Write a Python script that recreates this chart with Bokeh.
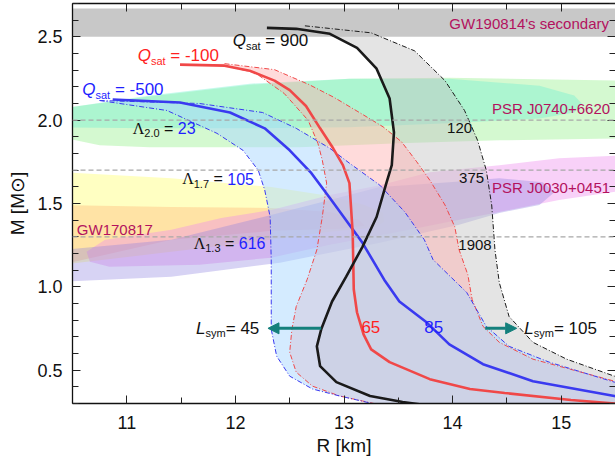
import math
from bokeh.plotting import figure
from bokeh.models import (Range1d, LinearAxis, FixedTicker, Label, Span,
                          BoxAnnotation, Arrow, NormalHead,
                          PrintfTickFormatter, CustomJSTickFormatter)
from bokeh.embed import file_html
from bokeh.resources import INLINE

# ---------------------------------------------------------------- axes
R_RANGE = (10.5, 15.5)
M_RANGE = (0.3, 2.7)
r_major = [11, 12, 13, 14, 15]
r_minor = [10.5, 11.5, 12.5, 13.5, 14.5, 15.5]
m_major = [0.5, 1.0, 1.5, 2.0, 2.5]
m_minor = [0.3, 0.4, 0.6, 0.7, 0.8, 0.9, 1.1, 1.2, 1.3, 1.4, 1.6, 1.7, 1.8,
           1.9, 2.1, 2.2, 2.3, 2.4, 2.6, 2.7]

# ------------------------------------------------- mass-radius relations
# Q_sat = 900
black_solid_R = [12.29, 12.56, 12.87, 13.12, 13.30, 13.42, 13.46, 13.44, 13.39,
                 13.30, 13.17, 13.02, 12.89, 12.79, 12.75, 12.78, 12.93, 13.24,
                 13.54, 13.88]
black_solid_M = [2.554, 2.548, 2.518, 2.434, 2.309, 2.130, 1.927, 1.730, 1.622,
                 1.419, 1.240, 1.061, 0.912, 0.745, 0.643, 0.524, 0.428, 0.345,
                 0.309, 0.279]
black_hi_R = [12.64, 13.25, 13.65, 13.93, 14.11, 14.23, 14.31, 14.36, 14.39,
              14.43, 14.52, 14.74, 15.05, 15.49, 15.81]
black_hi_M = [2.566, 2.524, 2.416, 2.237, 2.058, 1.879, 1.700, 1.491, 1.222,
              1.025, 0.822, 0.667, 0.566, 0.464, 0.428]

# Q_sat = -100
red_solid_R = [11.49, 11.90, 12.13, 12.36, 12.50, 12.65, 12.78, 12.90, 12.99,
               13.05, 13.08, 13.09, 13.12, 13.18, 13.25, 13.42, 13.79, 14.16,
               14.48, 15.09, 15.54]
red_solid_M = [2.333, 2.327, 2.297, 2.237, 2.180, 2.085, 1.951, 1.831, 1.730,
               1.622, 1.324, 0.984, 0.846, 0.715, 0.625, 0.548, 0.446, 0.387,
               0.363, 0.321, 0.297]
red_lo_R = [11.49, 11.90, 12.18, 12.45, 12.67, 12.76, 12.80, 12.84, 12.80,
            12.75, 12.66, 12.56, 12.52, 12.50, 12.56, 12.71, 12.96, 13.17, 13.51]
red_lo_M = [2.333, 2.327, 2.285, 2.160, 1.999, 1.861, 1.760, 1.622, 1.419,
            1.222, 1.043, 0.882, 0.745, 0.607, 0.488, 0.404, 0.345, 0.315, 0.267]
red_hi_R = [11.90, 12.36, 12.68, 12.91, 13.17, 13.36, 13.53, 13.67, 13.79,
            13.93, 14.02, 14.06, 14.14, 14.18, 14.28, 14.43, 14.74, 15.49, 15.81]
red_hi_M = [2.339, 2.303, 2.213, 2.136, 2.035, 1.960, 1.870, 1.750, 1.640,
            1.491, 1.360, 1.222, 1.073, 0.924, 0.763, 0.667, 0.566, 0.434, 0.399]

# Q_sat = -500
blue_solid_R = [10.87, 11.49, 11.95, 12.27, 12.50, 12.70, 12.87, 13.17, 13.37,
                13.51, 13.76, 13.97, 14.28, 14.74, 15.49, 15.80]
blue_solid_M = [2.124, 2.106, 2.046, 1.951, 1.819, 1.682, 1.533, 1.264, 1.043,
                0.912, 0.787, 0.655, 0.536, 0.434, 0.345, 0.320]
blue_lo_R = [10.75, 11.37, 11.83, 12.07, 12.21, 12.27, 12.32, 12.33, 12.33,
             12.38, 12.50, 12.71, 12.96, 13.24, 13.51]
blue_lo_M = [2.118, 2.058, 1.921, 1.819, 1.700, 1.581, 1.419, 1.163, 0.745,
             0.584, 0.464, 0.387, 0.345, 0.303, 0.267]
blue_hi_R = [10.75, 11.67, 12.25, 12.56, 12.87, 13.05, 13.33, 13.56, 13.74,
             13.82, 14.13, 14.31, 14.52, 14.89, 15.49, 15.81]
blue_hi_M = [2.118, 2.100, 2.046, 1.951, 1.831, 1.742, 1.610, 1.449, 1.282,
             1.163, 0.966, 0.763, 0.643, 0.548, 0.428, 0.387]

# ------------------------------------------------- observational regions
gw190814_band = [2.50, 2.67]
lambda_masses = [2.0, 1.7, 1.3]

j0740_outer_R = [10.40, 11.21, 12.13, 13.05, 13.97, 15.60, 15.60, 14.43, 13.51,
                 12.59, 11.21, 10.75, 10.40]
j0740_outer_M = [2.070, 2.142, 2.213, 2.249, 2.255, 2.237, 1.891, 1.879, 1.861,
                 1.837, 1.837, 1.849, 1.897]
j0740_inner_R = [10.40, 11.21, 12.13, 13.05, 13.97, 14.80, 15.12, 15.19, 15.12,
                 14.80, 13.97, 13.05, 12.13, 11.21, 10.40]
j0740_inner_M = [2.070, 2.148, 2.219, 2.249, 2.249, 2.207, 2.148, 2.100, 2.046,
                 2.010, 1.981, 1.957, 1.951, 1.951, 1.957]

j0030_outer_R = [10.63, 10.80, 11.41, 11.87, 12.33, 12.87, 13.33, 13.79, 14.43,
                 14.98, 15.60, 15.60, 14.98, 14.43, 13.97, 13.51, 12.87, 12.33,
                 11.67, 10.84, 10.66]
j0030_outer_M = [1.210, 1.282, 1.342, 1.413, 1.461, 1.551, 1.610, 1.688, 1.730,
                 1.772, 1.790, 1.581, 1.521, 1.449, 1.390, 1.330, 1.252, 1.175,
                 1.133, 1.121, 1.151]
j0030_inner_R = [10.40, 11.41, 12.33, 12.87, 13.33, 13.97, 14.43, 14.83, 14.94,
                 14.80, 14.43, 14.06, 13.33, 12.41, 11.41, 10.40]
j0030_inner_M = [1.222, 1.282, 1.431, 1.521, 1.599, 1.628, 1.652, 1.628, 1.569,
                 1.491, 1.443, 1.372, 1.264, 1.145, 1.061, 1.031]

gw170817_outer_R = [10.40, 11.41, 12.33, 12.87, 13.19, 13.36, 13.37, 13.28,
                    12.87, 12.33, 11.41, 10.40]
gw170817_outer_M = [1.688, 1.652, 1.599, 1.545, 1.491, 1.443, 1.390, 1.354,
                    1.330, 1.282, 1.210, 1.133]
gw170817_inner_R = [10.40, 11.41, 12.33, 12.87, 13.14, 13.19, 12.96, 12.33,
                    11.41, 10.40]
gw170817_inner_M = [1.491, 1.479, 1.473, 1.449, 1.401, 1.366, 1.348, 1.336,
                    1.282, 1.133]

# L_sym arrows: (R tail, R head, M)
lsym_left_arrow = [12.79, 12.30, 0.751]
lsym_right_arrow = [14.30, 14.59, 0.751]

# ---------------------------------------------------------------- styles
SANS = "Liberation Sans"
SERIF = "Liberation Serif"
BLUE, RED, BLACK = "#3a3af0", "#f04848", "#1a1a1a"
BLUE_T, RED_T = "#1f1fff", "#ff1f1f"
CRIMSON = "#b3125e"
TEAL = "#14807c"
NB = "\u00a0"

p = figure(width=615, height=461, x_range=Range1d(*R_RANGE),
           y_range=Range1d(*M_RANGE), output_backend="svg",
           toolbar_location=None, min_border_left=72, min_border_right=0,
           min_border_top=3, min_border_bottom=58)
p.grid.visible = False
p.outline_line_color = None
p.background_fill_color = "white"
p.border_fill_color = "white"

blank = CustomJSTickFormatter(code="return ''")


def style_axis(ax, labels=True):
    ax.major_tick_in = 8
    ax.major_tick_out = 0
    ax.minor_tick_in = 6
    ax.minor_tick_out = 0
    ax.major_tick_line_color = "#222"
    ax.minor_tick_line_color = "#222"
    ax.axis_line_color = "#111"
    ax.axis_line_width = 1.3
    if labels:
        ax.major_label_text_font = SANS
        ax.major_label_text_font_size = "18px"
        ax.major_label_text_color = "#111"
        ax.axis_label_text_font = SANS
        ax.axis_label_text_font_size = "19px"
        ax.axis_label_text_font_style = "normal"
        ax.axis_label_text_color = "#111"
    else:
        ax.formatter = blank
        ax.major_label_standoff = 0


xa = p.xaxis[0]
xa.ticker = FixedTicker(ticks=r_major, minor_ticks=r_minor)
style_axis(xa)
xa.major_label_standoff = 12
xa.axis_label = "R [km]"
xa.axis_label_standoff = 3
ya = p.yaxis[0]
ya.ticker = FixedTicker(ticks=m_major, minor_ticks=m_minor)
ya.formatter = PrintfTickFormatter(format="%.1f")
style_axis(ya)
ya.major_label_standoff = 10
ya.axis_label = "M [M⊙]"
ya.axis_label_standoff = 6

top = LinearAxis(ticker=FixedTicker(ticks=r_major, minor_ticks=r_minor))
style_axis(top, labels=False)
p.add_layout(top, "above")
right = LinearAxis(ticker=FixedTicker(ticks=m_major, minor_ticks=m_minor))
style_axis(right, labels=False)
right.axis_line_color = None
p.add_layout(right, "right")

# ----------------------------------------------- observational constraints
p.add_layout(BoxAnnotation(bottom=gw190814_band[0], top=gw190814_band[1],
                           fill_color="#c8c8c8", fill_alpha=1.0,
                           line_color=None, level="underlay"))

p.patch(j0740_outer_R, j0740_outer_M, fill_color="#b8f5b0", fill_alpha=0.6,
        line_color=None)
p.patch(j0740_inner_R, j0740_inner_M, fill_color="#70f0d0", fill_alpha=0.4,
        line_color=None)
p.patch(gw170817_outer_R, gw170817_outer_M, fill_color="#ffff90",
        fill_alpha=0.55, line_color=None)
p.patch(gw170817_inner_R, gw170817_inner_M, fill_color="#ffb070",
        fill_alpha=0.35, line_color=None)
p.patch(j0030_outer_R, j0030_outer_M, fill_color="#ee8cee", fill_alpha=0.4,
        line_color=None)
p.patch(j0030_inner_R, j0030_inner_M, fill_color="#8c80e0", fill_alpha=0.35,
        line_color=None)

for m in lambda_masses:
    p.add_layout(Span(location=m, dimension="width", line_color="#a8a8a8",
                      line_dash="5 3", line_width=1.2))

# ------------------------------------------------ bands between relations
floor = M_RANGE[0] - 0.2


def band(lo_R, lo_M, hi_R, hi_M, color, alpha):
    xs = lo_R + [lo_R[-1], hi_R[-1]] + hi_R[::-1]
    ys = lo_M + [floor, floor] + hi_M[::-1]
    p.patch(xs, ys, fill_color=color, fill_alpha=alpha, line_color=None)


band(black_solid_R, black_solid_M, black_hi_R, black_hi_M, "#c4c4c4", 0.45)
band(red_lo_R, red_lo_M, red_hi_R, red_hi_M, "#ffb0b0", 0.45)
band(blue_lo_R, blue_lo_M, blue_hi_R, blue_hi_M, "#aad8ff", 0.5)

dd = "5 2 1 2"
p.line(black_hi_R, black_hi_M, line_color=BLACK, line_width=1, line_dash=dd)
p.line(red_lo_R, red_lo_M, line_color=RED, line_width=1, line_dash=dd)
p.line(red_hi_R, red_hi_M, line_color=RED, line_width=1, line_dash=dd)
p.line(blue_lo_R, blue_lo_M, line_color=BLUE, line_width=1, line_dash=dd)
p.line(blue_hi_R, blue_hi_M, line_color=BLUE, line_width=1, line_dash=dd)

p.line(blue_solid_R, blue_solid_M, line_color=BLUE, line_width=2.6)
p.line(red_solid_R, red_solid_M, line_color=RED, line_width=2.6)
p.line(black_solid_R, black_solid_M, line_color=BLACK, line_width=2.6)

# ------------------------------------------------------------ annotations
ADV = {' ': 278, NB: 278, '.': 278, '=': 584, '-': 333, '+': 584, "'": 191,
       '[': 278, ']': 278, 'Λ': 722,
       'L': 556, 'M': 833, 'Q': 778, 'R': 722,
       'a': 556, 'k': 500, 'm': 833, 's': 500, 't': 278, 'y': 500}


def adv(text, size):
    return sum(ADV.get(ch, 556) for ch in text) * size / 1000.0


def rich(x, y, parts, align="left"):
    widths = [adv(pt[0], pt[1]) for pt in parts]
    pos = {"left": 0.0, "right": -sum(widths),
           "center": -sum(widths) / 2}[align]
    for (t, s, color, shift, font, fstyle), w in zip(parts, widths):
        p.add_layout(Label(x=x, y=y, x_offset=pos, y_offset=shift, text=t,
                           text_font=font, text_font_size=f"{s}px",
                           text_color=color, text_font_style=fstyle,
                           text_baseline="middle", text_align="left"))
        pos += w


def plain(x, y, text, color, size=15, align="left"):
    p.add_layout(Label(x=x, y=y, text=text, text_font=SANS,
                       text_font_size=f"{size}px", text_color=color,
                       text_baseline="middle", text_align=align))


def qsat(x, y, val, color):
    rich(x, y, [("Q", 17, color, 0, SANS, "italic"),
                ("sat", 11, color, -5, SANS, "normal"),
                (NB + "=" + NB + val, 17, color, 0, SANS, "normal")])


qsat(11.975, 2.476, "900", "#111")
qsat(11.10, 2.387, "-100", RED_T)
qsat(10.59, 2.183, "-500", BLUE_T)


def lam(x, y, sub, val):
    rich(x, y, [("Λ", 16, "#111", 0, SERIF, "normal"),
                (sub, 11, "#111", -5, SANS, "normal"),
                (NB + "=" + NB, 16, "#111", 0, SANS, "normal"),
                (val, 16, BLUE_T, 0, SANS, "normal")])


lam(11.055, 1.951, "2.0", "23")
lam(11.51, 1.649, "1.7", "105")
lam(11.616, 1.261, "1.3", "616")

plain(14.18, 1.954, "120", "#111", 15, "right")
plain(14.29, 1.652, "375", "#111", 15, "right")
plain(14.36, 1.252, "1908", "#111", 15, "right")

plain(15.44, 2.578, "GW190814's secondary", CRIMSON, 15, "right")
plain(15.45, 2.070, "PSR J0740+6620", CRIMSON, 15, "right")
plain(15.45, 1.596, "PSR J0030+0451", CRIMSON, 15, "right")
plain(10.54, 1.345, "GW170817", CRIMSON, 15, "left")

rich(12.22, 0.751, [("L", 17, "#111", 0, SANS, "italic"),
                    ("sym", 11, "#111", -5, SANS, "normal"),
                    ("=" + NB + "45", 17, "#111", 0, SANS, "normal")],
     align="right")
rich(14.66, 0.751, [("L", 17, "#111", 0, SANS, "italic"),
                    ("sym", 11, "#111", -5, SANS, "normal"),
                    ("=" + NB + "105", 17, "#111", 0, SANS, "normal")])
plain(13.16, 0.757, "65", RED_T, 17)
plain(13.74, 0.757, "85", BLUE_T, 17)

for tail, head, m in (lsym_left_arrow, lsym_right_arrow):
    p.add_layout(Arrow(end=NormalHead(size=11, fill_color=TEAL,
                                      line_color=TEAL),
                       x_start=tail, y_start=m, x_end=head, y_end=m,
                       line_color=TEAL, line_width=3))

open("out.html", "w").write(file_html(p, INLINE))
